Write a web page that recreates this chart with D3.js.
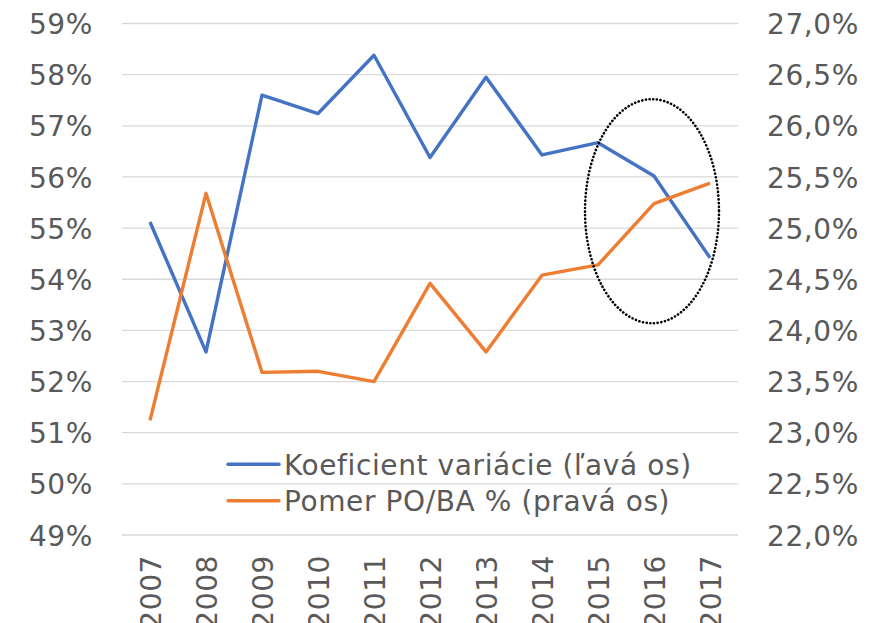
<!DOCTYPE html>
<html>
<head>
<meta charset="utf-8">
<script src="https://cdn.jsdelivr.net/npm/d3@7"></script>
<style>
  html, body { margin: 0; padding: 0; background: #fff; }
  svg { display: block; }
  text { font-family: "DejaVu Sans", Verdana, sans-serif; fill: #595959; }
</style>
</head>
<body>
<svg id="chart" width="871" height="623"></svg>
<script>
const years = ["2007","2008","2009","2010","2011","2012","2013","2014","2015","2016","2017"];
const koeficient = [55.12, 52.58, 57.60, 57.24, 58.38, 56.38, 57.95, 56.43, 56.67, 56.02, 54.42];
const pomer = [23.12, 25.34, 23.59, 23.60, 23.50, 24.46, 23.79, 24.54, 24.64, 25.24, 25.44];
const leftTicks = [49, 50, 51, 52, 53, 54, 55, 56, 57, 58, 59];
const rightTicks = [22.0, 22.5, 23.0, 23.5, 24.0, 24.5, 25.0, 25.5, 26.0, 26.5, 27.0];
const seriesNames = ["Koeficient variácie (ľavá os)", "Pomer PO/BA % (pravá os)"];
const highlightYears = ["2015", "2017"];
const highlightRange = [53.14, 57.52];

const svg = d3.select("#chart");
const pLeft = 122, pRight = 738, pTop = 23.5, pBottom = 535;
const FS = "28px", LS = "0.6px";

const x = d3.scalePoint().domain(years).range([pLeft, pRight]).padding(0.5);
const yL = d3.scaleLinear().domain([49, 59]).range([pBottom, pTop]);
const yR = d3.scaleLinear().domain([22, 27]).range([pBottom, pTop]);

// gridlines
svg.append("g").selectAll("line").data(leftTicks).join("line")
  .attr("x1", pLeft).attr("x2", pRight)
  .attr("y1", d => yL(d)).attr("y2", d => yL(d))
  .attr("stroke", "#D9D9D9").attr("stroke-width", 1.3);

// left axis
const axL = d3.axisLeft(yL).tickValues(leftTicks).tickSize(0).tickPadding(0)
  .tickFormat(d => d + "%");
const gL = svg.append("g").attr("transform", `translate(93,0)`).call(axL);
gL.select(".domain").remove();
gL.selectAll("text").style("font-size", FS).style("letter-spacing", LS).attr("fill", "#595959").attr("dy", "0.36em");

// right axis
const fmtR = d => d.toFixed(1).replace(".", ",") + "%";
const axR = d3.axisRight(yR).tickValues(rightTicks).tickSize(0).tickPadding(0).tickFormat(fmtR);
const gR = svg.append("g").attr("transform", `translate(767,0)`).call(axR);
gR.select(".domain").remove();
gR.selectAll("text").style("font-size", FS).style("letter-spacing", LS).attr("fill", "#595959").attr("dy", "0.36em");

// x axis labels (rotated)
const axX = d3.axisBottom(x).tickSize(0).tickPadding(0);
const gX = svg.append("g").attr("transform", `translate(0,${pBottom})`).call(axX);
gX.select(".domain").remove();
gX.selectAll("text")
  .style("font-size", FS).style("letter-spacing", LS).attr("fill", "#595959")
  .attr("text-anchor", "end")
  .attr("dy", null).attr("y", 0)
  .attr("transform", "translate(10,20) rotate(-90)");

// lines
const lineL = d3.line().x((d, i) => x(years[i])).y(d => yL(d));
const lineR = d3.line().x((d, i) => x(years[i])).y(d => yR(d));
svg.append("path").datum(koeficient).attr("d", lineL)
  .attr("fill", "none").attr("stroke", "#4472C4").attr("stroke-width", 3.4).attr("stroke-linejoin", "round");
svg.append("path").datum(pomer).attr("d", lineR)
  .attr("fill", "none").attr("stroke", "#ED7D31").attr("stroke-width", 3.4).attr("stroke-linejoin", "round");

// highlight ellipse
const ex1 = x(highlightYears[0]) - 13, ex2 = x(highlightYears[1]) + 9;
svg.append("ellipse")
  .attr("cx", (ex1 + ex2) / 2).attr("cy", (yL(highlightRange[0]) + yL(highlightRange[1])) / 2)
  .attr("rx", (ex2 - ex1) / 2).attr("ry", (yL(highlightRange[0]) - yL(highlightRange[1])) / 2)
  .attr("fill", "none").attr("stroke", "#000").attr("stroke-width", 2.6)
  .attr("stroke-dasharray", "0.1 3.6").attr("stroke-linecap", "round");

// legend
const colors = ["#4472C4", "#ED7D31"];
const leg = svg.append("g");
seriesNames.forEach((n, i) => {
  const yy = 464.3 + i * 36.4;
  leg.append("line").attr("x1", 228).attr("x2", 279).attr("y1", yy).attr("y2", yy)
    .attr("stroke", colors[i]).attr("stroke-width", 3.4).attr("stroke-linecap", "round");
  leg.append("text").attr("x", 284).attr("y", yy + 10.3)
    .style("font-size", FS).style("letter-spacing", LS).text(n);
});
</script>
</body>
</html>
